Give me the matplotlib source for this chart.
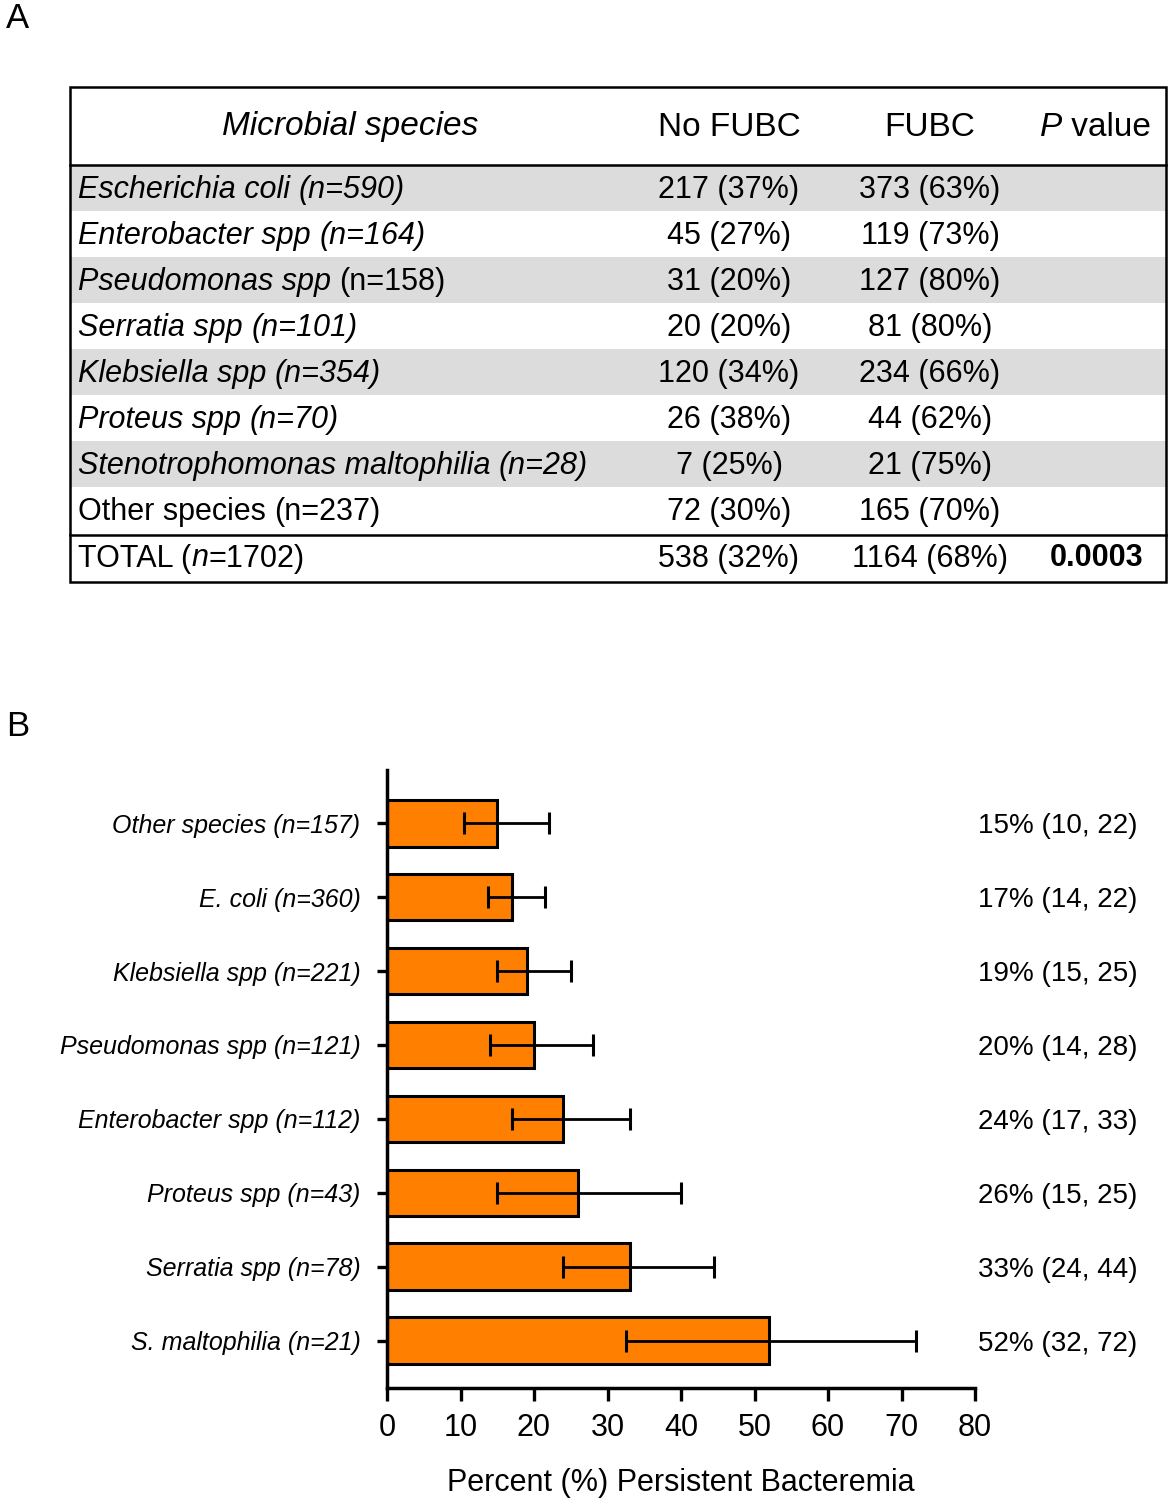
#!/usr/bin/env python3
"""Panel A: FUBC table by species; panel B: persistent bacteremia by species."""

import matplotlib
matplotlib.use("Agg")
import matplotlib.pyplot as plt
from matplotlib.patches import Rectangle

plt.rcParams["font.family"] = ["Liberation Sans", "DejaVu Sans"]

# ---- panel A data ----
species = ["Escherichia coli", "Enterobacter spp", "Pseudomonas spp", "Serratia spp",
           "Klebsiella spp", "Proteus spp", "Stenotrophomonas maltophilia", "Other species"]
species_n = [590, 164, 158, 101, 354, 70, 28, 237]
no_fubc = [217, 45, 31, 20, 120, 26, 7, 72]
no_fubc_pct = [37, 27, 20, 20, 34, 38, 25, 30]
fubc = [373, 119, 127, 81, 234, 44, 21, 165]
fubc_pct = [63, 73, 80, 80, 66, 62, 75, 70]
total_n = 1702
total_no_fubc, total_no_fubc_pct = 538, 32
total_fubc, total_fubc_pct = 1164, 68
p_value = "0.0003"
header = ["Microbial species", "No FUBC", "FUBC"]

# ---- panel B data ----
bar_species = ["Other species", "E. coli", "Klebsiella spp", "Pseudomonas spp",
               "Enterobacter spp", "Proteus spp", "Serratia spp", "S. maltophilia"]
bar_n = [157, 360, 221, 121, 112, 43, 78, 21]
persist_pct = [15, 17, 19, 20, 24, 26, 33, 52]
ci_low = [10.5, 13.8, 15, 14, 17, 15, 24, 32.5]
ci_high = [22, 21.5, 25, 28, 33, 40, 44.5, 72]
ci_text_low = [10, 14, 15, 14, 17, 15, 24, 32]
ci_text_high = [22, 22, 25, 28, 33, 25, 44, 72]

W, H = 1172, 1500
fig = plt.figure(figsize=(W / 100, H / 100), dpi=100)
over = fig.add_axes([0, 0, 1, 1])
over.set_xlim(0, W)
over.set_ylim(H, 0)
over.axis("off")
renderer = fig.canvas.get_renderer()


def seg_text(x, y, parts, size):
    """Draw consecutive text pieces [(text, style), ...] starting at x."""
    for txt, style in parts:
        t = over.text(x, y, txt, fontsize=size, style=style, va="center", ha="left")
        bb = t.get_window_extent(renderer=renderer)
        x += bb.width


# panel letters
over.text(6, 19, "A", fontsize=25, va="center", ha="left")
over.text(6, 727, "B", fontsize=25, va="center", ha="left")

# ---- table ----
left, right, top, bottom = 70, 1166, 87, 582
head_bot, row_h = 165, 46
col_no, col_fubc, col_p = 729, 930, 1097
fs = 22

for i in range(len(species)):
    y0 = head_bot + i * row_h
    if i % 2 == 0:
        over.add_patch(Rectangle((left, y0), right - left, row_h,
                                 facecolor="#dcdcdc", edgecolor="none"))
total_top = head_bot + len(species) * row_h + 2

over.add_patch(Rectangle((left, top), right - left, bottom - top,
                         facecolor="none", edgecolor="black", lw=1.8))
over.plot([left, right], [head_bot, head_bot], color="black", lw=1.8)
over.plot([left, right], [total_top, total_top], color="black", lw=1.8)

hy = (top + head_bot) / 2 + 1
over.text(350, hy, header[0], fontsize=24, style="italic", ha="center", va="center")
over.text(col_no, hy, header[1], fontsize=24, ha="center", va="center")
over.text(col_fubc, hy, header[2], fontsize=24, ha="center", va="center")
seg_text(1040, hy, [("P", "italic"), (" value", "normal")], 24)

name_style = ["italic", "italic", "italic", "italic", "italic", "italic", "italic", "normal"]
n_style = ["italic", "italic", "normal", "italic", "italic", "italic", "italic", "normal"]
for i, name in enumerate(species):
    yc = head_bot + i * row_h + row_h / 2 + 2
    seg_text(78, yc, [(name + " ", name_style[i]), (f"(n={species_n[i]})", n_style[i])], fs)
    over.text(col_no, yc, f"{no_fubc[i]} ({no_fubc_pct[i]}%)", fontsize=fs,
              ha="center", va="center")
    over.text(col_fubc, yc, f"{fubc[i]} ({fubc_pct[i]}%)", fontsize=fs,
              ha="center", va="center")

yc = (total_top + bottom) / 2
seg_text(78, yc, [("TOTAL (", "normal"), ("n", "italic"), (f"={total_n})", "normal")], fs)
over.text(col_no, yc, f"{total_no_fubc} ({total_no_fubc_pct}%)", fontsize=fs,
          ha="center", va="center")
over.text(col_fubc, yc, f"{total_fubc} ({total_fubc_pct}%)", fontsize=fs,
          ha="center", va="center")
over.text(col_p, yc, p_value, fontsize=fs, weight="bold", ha="center", va="center")

# ---- bar chart ----
ax_l, ax_r, ax_t, ax_b = 387, 975, 770, 1388
ax = fig.add_axes([ax_l / W, 1 - ax_b / H, (ax_r - ax_l) / W, (ax_b - ax_t) / H])
pos = list(range(len(bar_species)))
xerr = [[p - lo for p, lo in zip(persist_pct, ci_low)],
        [hi - p for p, hi in zip(persist_pct, ci_high)]]
ax.barh(pos, persist_pct, height=0.63, color="#FF8000", edgecolor="black", lw=2.2)
ax.errorbar(persist_pct, pos, xerr=xerr, fmt="none", ecolor="black",
            elinewidth=2, capsize=8, capthick=2.2)

ax.set_xlim(0, 80)
ax.set_ylim(len(bar_species) - 1 + 0.64, -0.72)
ax.set_xticks(range(0, 81, 10))
ax.set_yticks(pos)
ax.set_yticklabels([f"{s} (n={n})" for s, n in zip(bar_species, bar_n)],
                   fontsize=18, style="italic")
ax.tick_params(axis="x", labelsize=22, length=9, width=2.4, pad=9)
ax.tick_params(axis="y", length=7, width=2.4, pad=12)
for side in ("top", "right"):
    ax.spines[side].set_visible(False)
for side in ("left", "bottom"):
    ax.spines[side].set_linewidth(2.5)
ax.set_xlabel("Percent (%) Persistent Bacteremia", fontsize=22, labelpad=18)

for i in pos:
    ax.text(1.005, i, f"{persist_pct[i]}% ({ci_text_low[i]}, {ci_text_high[i]})",
            transform=ax.get_yaxis_transform(), fontsize=20, ha="left",
            va="center_baseline", clip_on=False)

fig.savefig("out.png", dpi=100)
